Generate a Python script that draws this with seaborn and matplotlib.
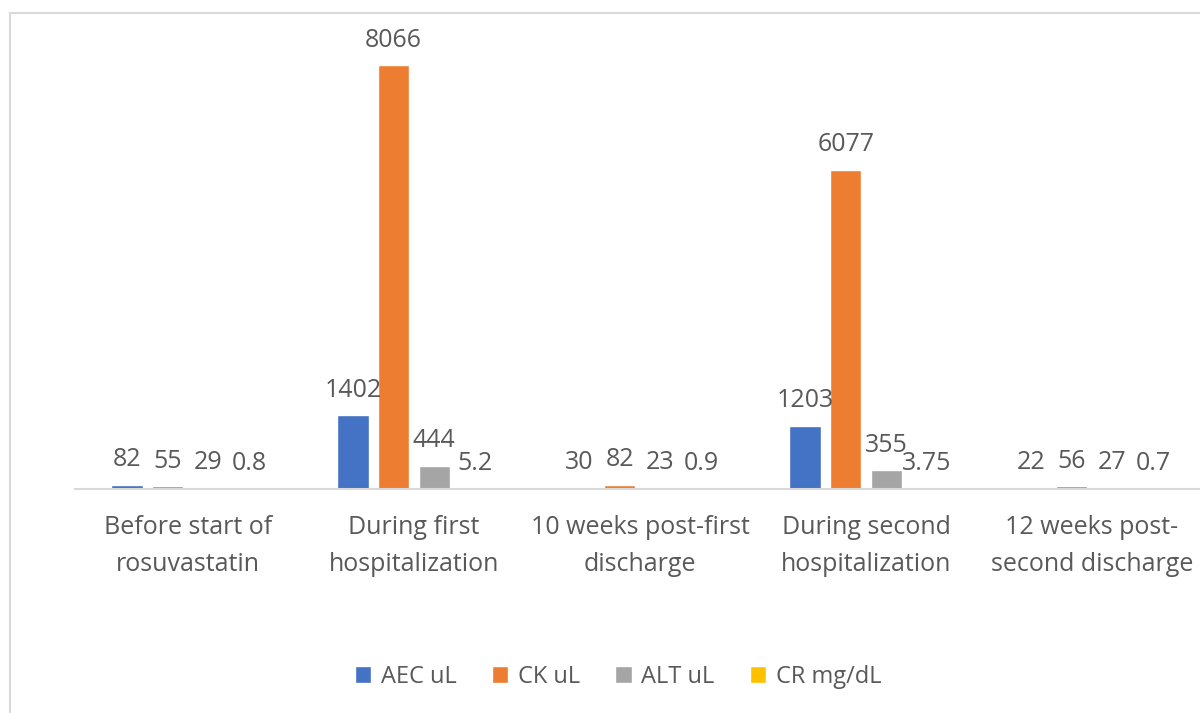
import matplotlib.pyplot as plt
import pandas as pd
import seaborn as sns
from matplotlib.lines import Line2D

# values
stages = ['Before start of\nrosuvastatin', 'During first\nhospitalization',
          '10 weeks post-first\ndischarge', 'During second\nhospitalization',
          '12 weeks post-\nsecond discharge']
series = ['AEC uL', 'CK uL', 'ALT uL', 'CR mg/dL']
aec = [82, 1402, 30, 1203, 22]
ck = [55, 8066, 82, 6077, 56]
alt = [29, 444, 23, 355, 27]
cr = [0.8, 5.2, 0.9, 3.75, 0.7]
colors = ['#4472C4', '#ED7D31', '#A5A5A5', '#FFC000']

rows = []
for name, vals in zip(series, [aec, ck, alt, cr]):
    for stage, v in zip(stages, vals):
        rows.append({'stage': stage, 'series': name, 'value': v})
df = pd.DataFrame(rows)

sns.set_style('white')
plt.rcParams['font.family'] = ['Open Sans', 'DejaVu Sans']
text_color = '#595959'

fig = plt.figure(figsize=(12, 7.13), dpi=100)
ax = fig.add_axes([0.0625, 0.3142, 0.9417, 0.6634])

sns.barplot(data=df, x='stage', y='value', hue='series', order=stages,
            hue_order=series, palette=colors, width=0.72, gap=0.23,
            saturation=1, errorbar=None, ax=ax)

for cont, vals in zip(ax.containers, [aec, ck, alt, cr]):
    ax.bar_label(cont, labels=[f'{v:g}' for v in vals], padding=9,
                 fontsize=18, color=text_color)

ax.set_ylim(0, 9000)
ax.set_xlim(-0.5, len(stages) - 0.5)
ax.set_yticks([])
ax.set_xlabel('')
ax.set_ylabel('')
for side in ['top', 'right', 'left']:
    ax.spines[side].set_visible(False)
ax.spines['bottom'].set_color('#D9D9D9')
ax.spines['bottom'].set_linewidth(1.5)
ax.tick_params(axis='x', length=0, pad=19, labelsize=18, labelcolor=text_color)
for t in ax.get_xticklabels():
    t.set_linespacing(1.6)

handles, labels = ax.get_legend_handles_labels()
ax.get_legend().remove()
fig.legend(handles, labels, loc='center', bbox_to_anchor=(0.515, 0.051),
           ncol=4, frameon=False, fontsize=17, labelcolor=text_color,
           handlelength=0.7, handleheight=0.7, handletextpad=0.4,
           columnspacing=1.5)

# outer chart frame (cropped on right and bottom)
fig.add_artist(Line2D([10 / 1200, 10 / 1200], [0, 1 - 13 / 713],
                      transform=fig.transFigure, color='#D9D9D9', lw=1.5))
fig.add_artist(Line2D([10 / 1200, 1], [1 - 13 / 713, 1 - 13 / 713],
                      transform=fig.transFigure, color='#D9D9D9', lw=1.5))

fig.savefig('out.png', dpi=100)
